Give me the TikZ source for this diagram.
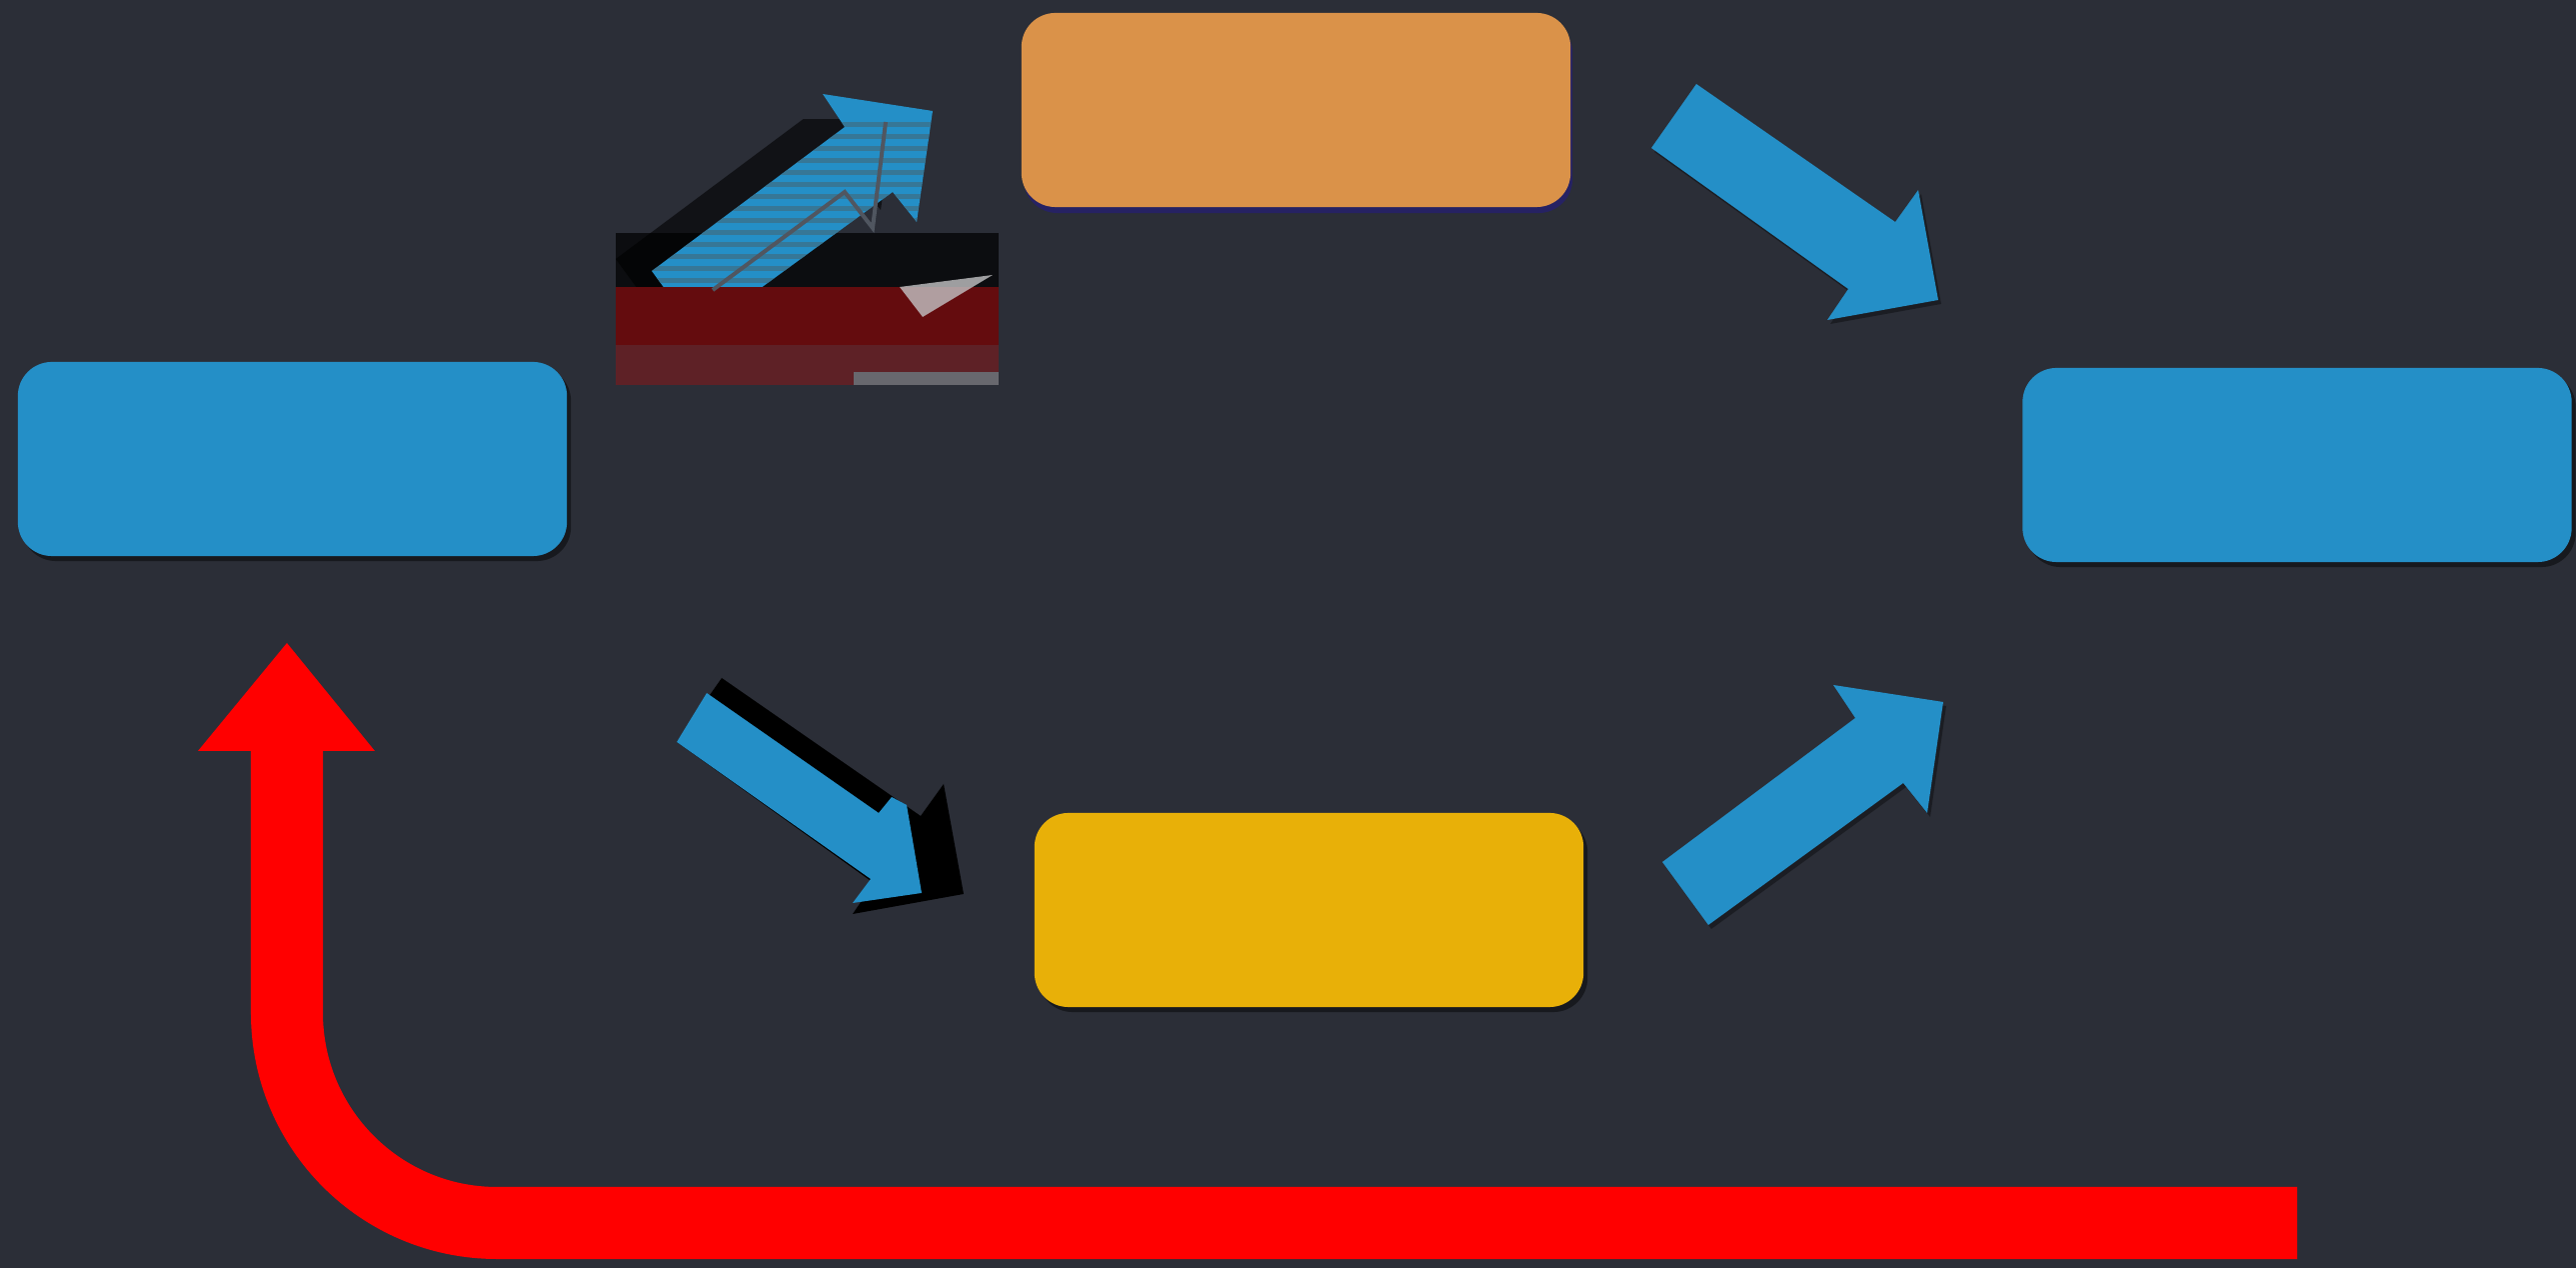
\documentclass[tikz,border=0pt]{standalone}
\usetikzlibrary{shadows}
\definecolor{bg}{RGB}{43,46,55}
\definecolor{cblue}{RGB}{36,143,199}
\definecolor{corange}{RGB}{218,146,73}
\definecolor{cyellow}{RGB}{232,176,8}
\definecolor{cred}{RGB}{255,0,0}
\definecolor{shnavy}{RGB}{38,34,102}
\definecolor{glitchred}{RGB}{100,12,14}
\definecolor{glitchred2}{RGB}{94,33,38}
\definecolor{glitchgrey}{RGB}{104,104,110}
\definecolor{zigzag}{RGB}{80,86,96}
\definecolor{stripe}{RGB}{70,100,112}
\begin{document}
\begin{tikzpicture}[x=0.01cm,y=-0.01cm,
  box/.style={rectangle, rounded corners=0.34cm, minimum width=5.49cm,
    minimum height=1.94cm, inner sep=0pt, draw=none},
  boxshadow/.style={drop shadow={shadow xshift=0.04cm, shadow yshift=-0.05cm,
    fill=black, opacity=0.45}},
  navyshadow/.style={drop shadow={shadow xshift=0.02cm, shadow yshift=-0.06cm,
    fill=shnavy, opacity=0.95}},
  arrowshadow/.style={drop shadow={shadow xshift=0.03cm, shadow yshift=-0.04cm,
    fill=black, opacity=0.35}},
  blockarrow/.style={fill=cblue, arrowshadow},
  loopline/.style={draw=cred, line width=0.72cm, rounded corners=2.1cm}
]
\fill[bg] (0,0) rectangle (2577,1268);
\useasboundingbox (0,0) rectangle (2577,1268);

% boxes
\node[box, fill=cblue, boxshadow] (src) at (292.5,459) {};
\node[box, fill=corange, navyshadow] (upper) at (1296.5,110) {};
\node[box, fill=cyellow, boxshadow] (lower) at (1309.5,910) {};
\node[box, fill=cblue, boxshadow] (dst) at (2298,465) {};

% upper-left arrow (with rendering artefacts)
\fill[black, opacity=0.7] (616,233) rectangle (999,287);
\begin{scope}
  \clip (616,120) rectangle (999,287);
  \fill[black, opacity=0.6] (616,259) -- (809,115) -- (787,82) -- (897,99)
    -- (881,210) -- (857,180) -- (662,322) -- cycle;
\end{scope}
\fill[cblue] (652,271) -- (845,127) -- (823,94) -- (933,111) -- (917,222)
  -- (893,192) -- (698,334) -- cycle;
\begin{scope}
  \clip (652,271) -- (845,127) -- (823,94) -- (933,111) -- (917,222)
    -- (893,192) -- (698,334) -- cycle;
  \foreach \yy in {122,134,...,282} {
    \fill[stripe, opacity=0.55] (616,\yy) rectangle (999,\yy+5);
  }
\end{scope}
\fill[glitchred] (616,287) rectangle (999,345);
\fill[glitchred2] (616,345) rectangle (999,385);
\fill[glitchgrey] (854,372) rectangle (999,385);
\fill[white!60!glitchgrey, opacity=0.8] (900,287) -- (993,275) -- (923,317) -- cycle;
\draw[zigzag, line width=0.04cm] (713,290) -- (845,192) -- (873,228) -- (886,122);

% lower-left arrow (blue with black shadow copy)
\fill[black] (722,678) -- (921,816) -- (944,784) -- (964,894) -- (853,914)
  -- (874,883) -- (677,742) -- cycle;
\fill[cblue] (707,693) -- (879,813) -- (892,797) -- (907,805) -- (922,893)
  -- (853,903) -- (871,879) -- (677,742) -- cycle;

% right arrows
\fill[blockarrow] (1697,84) -- (1896,222) -- (1919,190) -- (1939,300)
  -- (1828,320) -- (1849,289) -- (1652,148) -- cycle;
\fill[blockarrow] (1663,862) -- (1856,718) -- (1834,685) -- (1944,702)
  -- (1928,813) -- (1904,783) -- (1709,925) -- cycle;

% red feedback loop
\coordinate (loopstart) at (2298,1223);
\coordinate (loopcorner) at (287,1223);
\coordinate (loopneck) at (287,750);
\draw[loopline] (loopstart) -- (loopcorner) -- (loopneck);
\fill[cred] (287,643) -- (375,751) -- (198,751) -- cycle;
\end{tikzpicture}
\end{document}
